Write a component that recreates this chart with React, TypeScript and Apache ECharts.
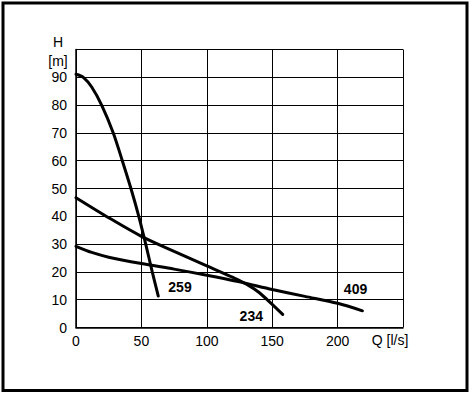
import React, { useEffect, useRef } from "react";
import * as echarts from "echarts";

const curve259: [number, number][] = [
  [0, 91.1], [5.6, 90], [12, 86.5], [19.6, 80], [28.5, 70], [35.4, 60],
  [42, 50], [48, 40], [53.3, 30], [58.3, 20], [62.9, 11.3],
];
const curve234: [number, number][] = [
  [0, 46.7], [25, 39.5], [50, 32.8], [75, 27.4], [100, 22.2], [120, 18],
  [130, 15.7], [140, 12.6], [150, 8.3], [158, 4.7],
];
const curve409: [number, number][] = [
  [0, 29.2], [12, 27], [25, 25.3], [50, 23], [75, 21], [100, 18.8],
  [125, 16.4], [150, 13.7], [175, 11.2], [200, 8.7], [219, 6],
];
const curveNames = ["259", "234", "409"];
const labelCoords: [number, number][] = [[79.5, 14.5], [134, 4.1], [213.7, 13.8]];
const xTicks = [0, 50, 100, 150, 200];
const yTicks = [0, 10, 20, 30, 40, 50, 60, 70, 80, 90];

export default function App() {
  const ref = useRef<HTMLDivElement>(null);
  useEffect(() => {
    if (!ref.current) return;
    const chart = echarts.init(ref.current, undefined, { renderer: "svg" });
    const font = "Liberation Sans, Arial, sans-serif";
    const datasets = [curve259, curve234, curve409];
    chart.setOption({
      animation: false,
      backgroundColor: "#fff",
      textStyle: { fontFamily: font },
      grid: { left: 76, top: 49.5, width: 327, height: 278, containLabel: false },
      xAxis: {
        type: "value", min: 0, max: 250, interval: 50,
        axisLine: { show: true, lineStyle: { color: "#000", width: 1.5 } },
        axisTick: { show: false },
        splitLine: { show: true, lineStyle: { color: "#000", width: 1 } },
        axisLabel: {
          color: "#000", fontSize: 14, fontFamily: font, margin: 6,
          formatter: (v: number) => (xTicks.includes(v) ? String(v) : ""),
        },
      },
      yAxis: {
        type: "value", min: 0, max: 100, interval: 10,
        axisLine: { show: true, lineStyle: { color: "#000", width: 1.5 } },
        axisTick: { show: false },
        splitLine: { show: true, lineStyle: { color: "#000", width: 1 } },
        axisLabel: {
          color: "#000", fontSize: 14, fontFamily: font, margin: 9,
          formatter: (v: number) => (yTicks.includes(v) ? String(v) : ""),
        },
      },
      series: datasets.map((d, i) => ({
        type: "line",
        name: curveNames[i],
        data: d,
        smooth: 0.3,
        showSymbol: false,
        symbol: "none",
        lineStyle: { color: "#000", width: 3, cap: "round" },
        z: 3,
        markPoint: {
          symbol: "circle",
          symbolSize: 0,
          data: [{
            coord: labelCoords[i],
            value: curveNames[i],
            label: {
              show: true, position: "inside", formatter: curveNames[i],
              color: "#000", fontSize: 14, fontWeight: "bold", fontFamily: font,
            },
          }],
        },
      })),
      graphic: [
        {
          type: "rect", shape: { x: 3, y: 3, width: 464, height: 387.5 },
          style: { fill: "none", stroke: "#000", lineWidth: 3 }, z: 10,
        },
        {
          type: "text", x: 58, y: 42,
          style: { text: "H", fontSize: 14, fontFamily: font, fill: "#000", align: "center", verticalAlign: "middle" },
        },
        {
          type: "text", x: 58, y: 61,
          style: { text: "[m]", fontSize: 14, fontFamily: font, fill: "#000", align: "center", verticalAlign: "middle" },
        },
        {
          type: "text", x: 390, y: 340,
          style: { text: "Q [l/s]", fontSize: 14, fontFamily: font, fill: "#000", align: "center", verticalAlign: "middle" },
        },
      ],
    });
    return () => chart.dispose();
  }, []);
  return (
    <div
      ref={ref}
      style={{ position: "fixed", left: 0, top: 0, width: 472, height: 394 }}
    />
  );
}
